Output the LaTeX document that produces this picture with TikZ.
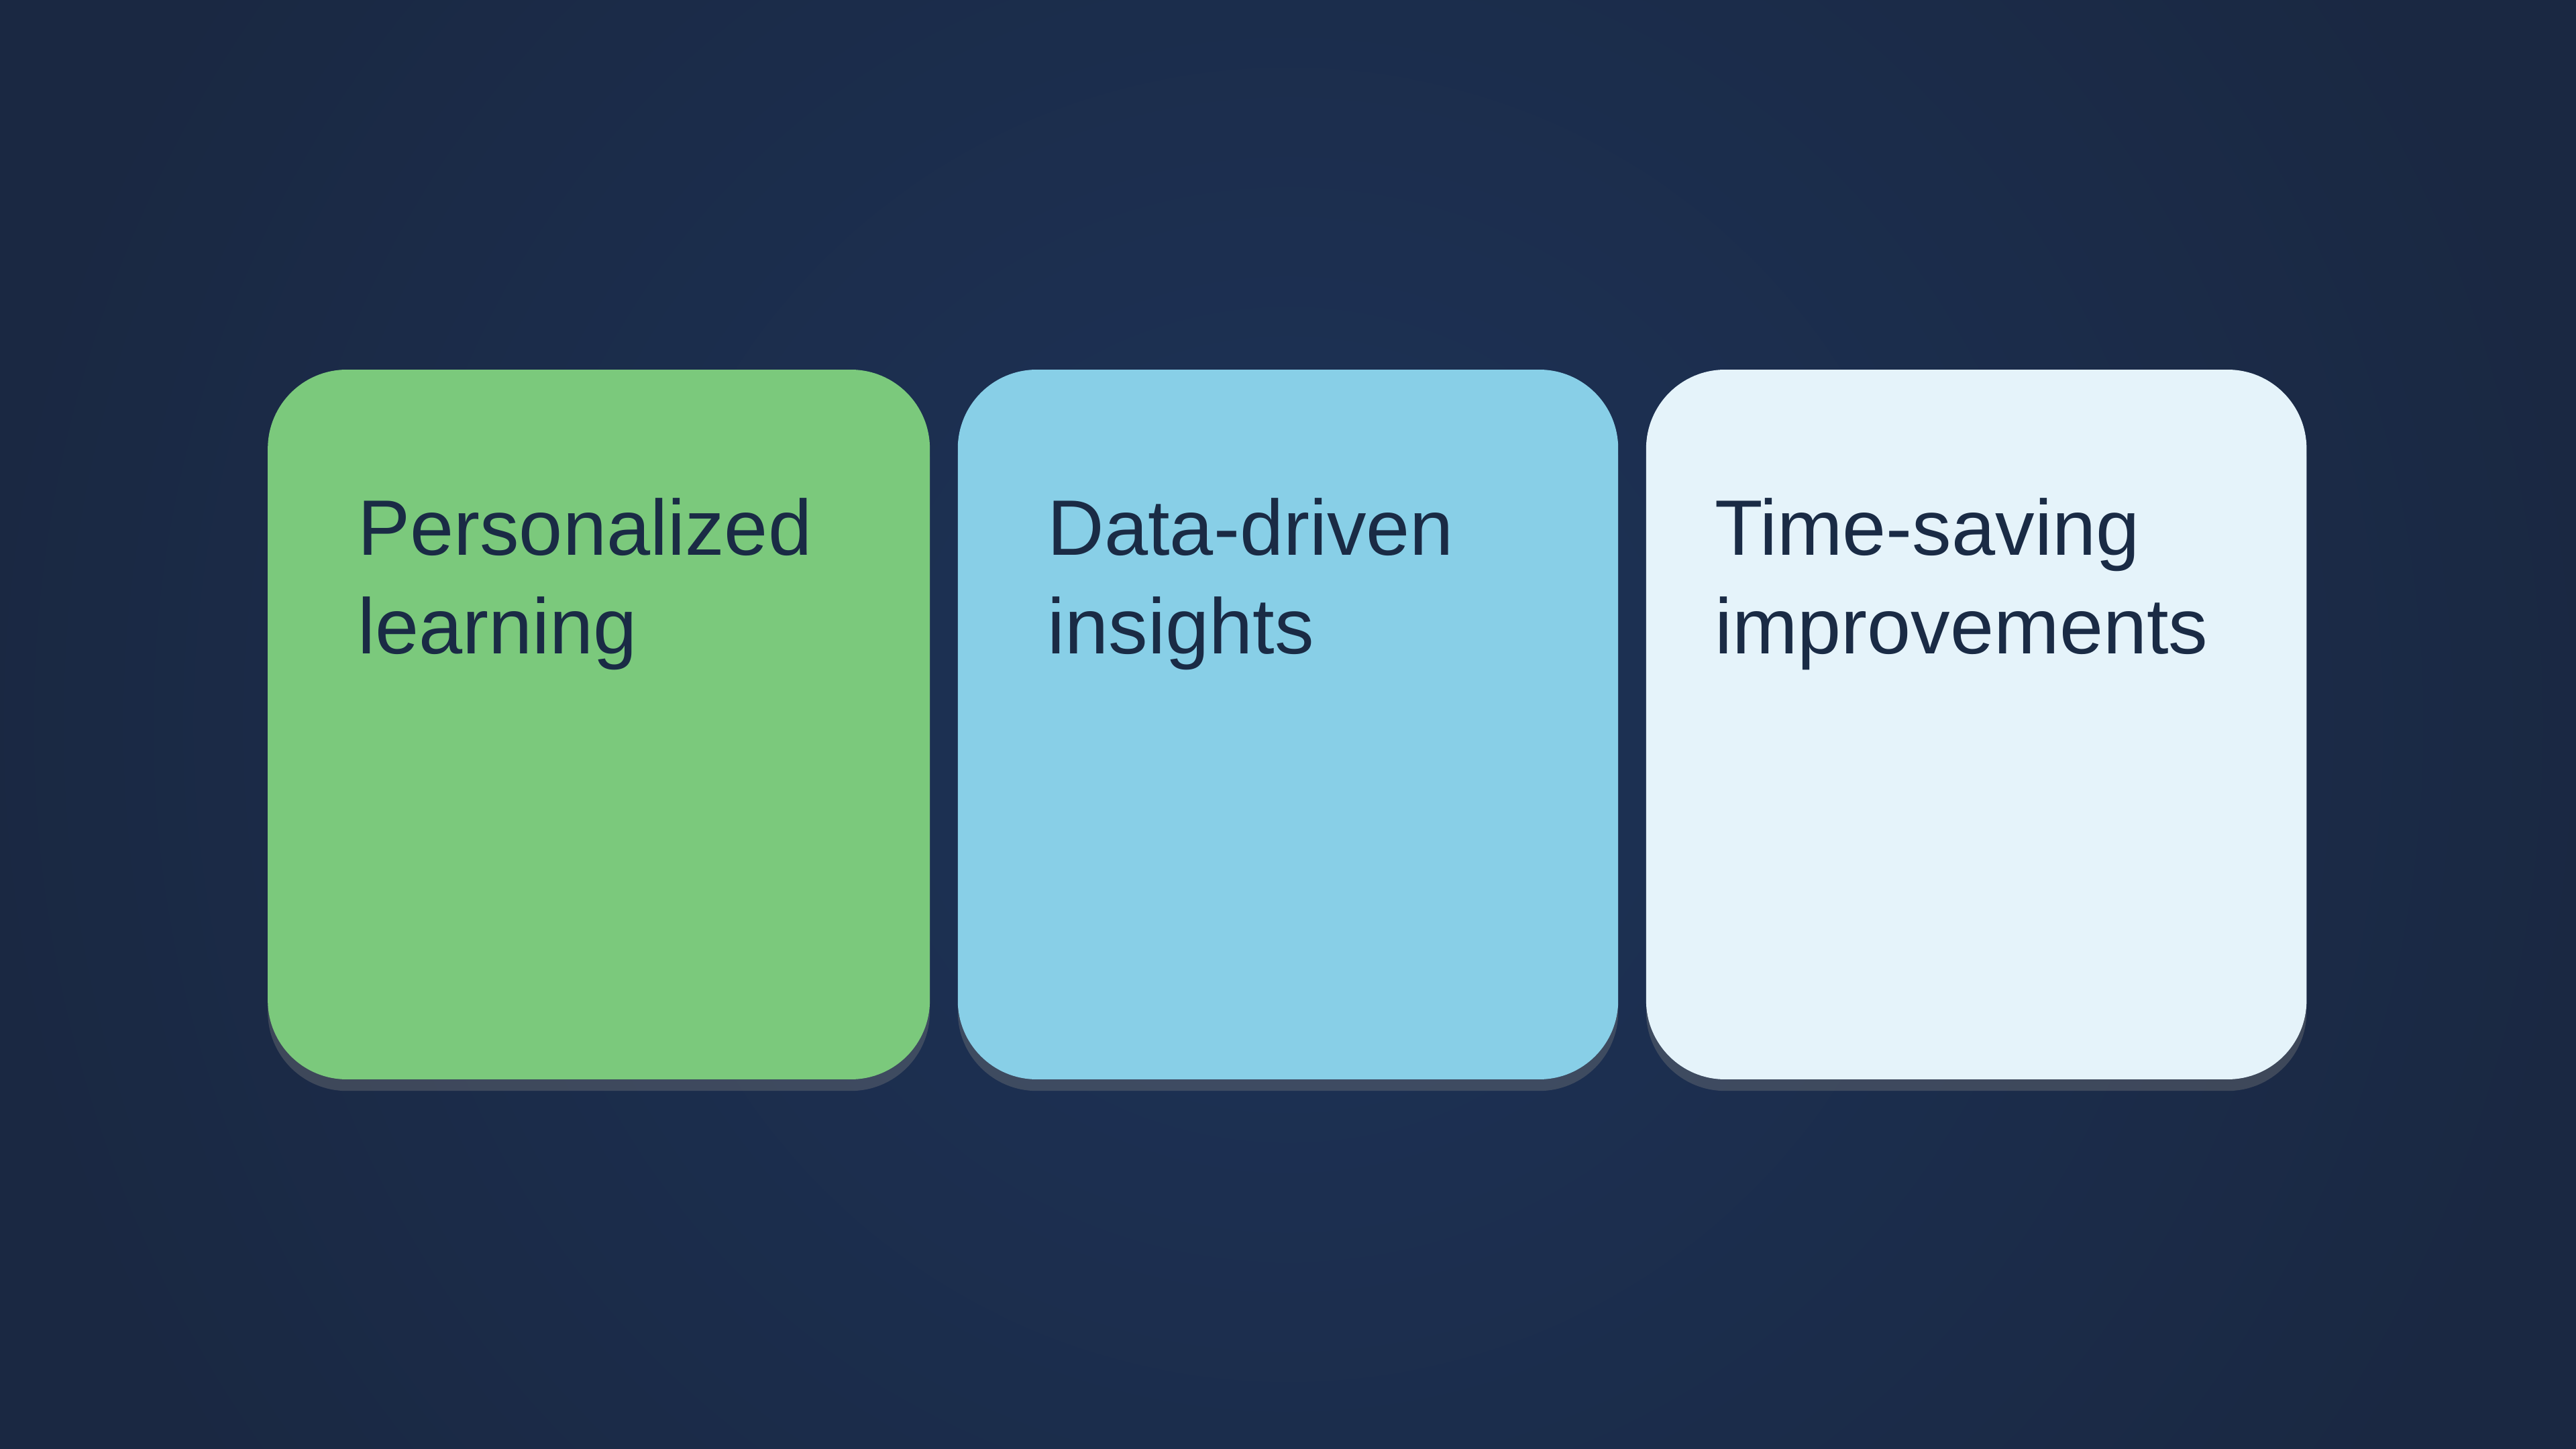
\documentclass[tikz,border=0pt]{standalone}
\usepackage{fontspec}
\setmainfont{Liberation Sans}
\usetikzlibrary{shadows}
\definecolor{bgin}{HTML}{1D3358}
\definecolor{bgout}{HTML}{1A2842}
\definecolor{cgreen}{HTML}{7BC97C}
\definecolor{cblue}{HTML}{88CFE7}
\definecolor{clight}{HTML}{E5F3FA}
\definecolor{ink}{HTML}{1A2B45}
\begin{document}
\begin{tikzpicture}[x=0.01cm,y=-0.01cm,
  card/.style={rounded corners=0.48cm, draw=none, drop shadow={shadow xshift=0pt,shadow yshift=-2pt,opacity=0.35}},
  lab/.style={anchor=base west, text=ink, font=\fontsize{13.6}{17}\selectfont, align=left, inner sep=0pt}]
\useasboundingbox (0,0) rectangle (1568,882);
\fill[bgout] (0,0) rectangle (1568,882);
\shade[inner color=bgin, outer color=bgout] (784,441) circle (800);
\fill[card, fill=cgreen] (163,225) rectangle (566,657);
\fill[card, fill=cblue] (583,225) rectangle (985,657);
\fill[card, fill=clight] (1002,225) rectangle (1404,657);
\node[lab] (t1a) at (217,338) {Personalized};
\node[lab] (t1b) at (217,398) {learning};
\node[lab] (t2a) at (637,338) {Data-driven};
\node[lab] (t2b) at (637,398) {insights};
\node[lab] (t3a) at (1043,338) {Time-saving};
\node[lab] (t3b) at (1043,398) {improvements};
\end{tikzpicture}
\end{document}
